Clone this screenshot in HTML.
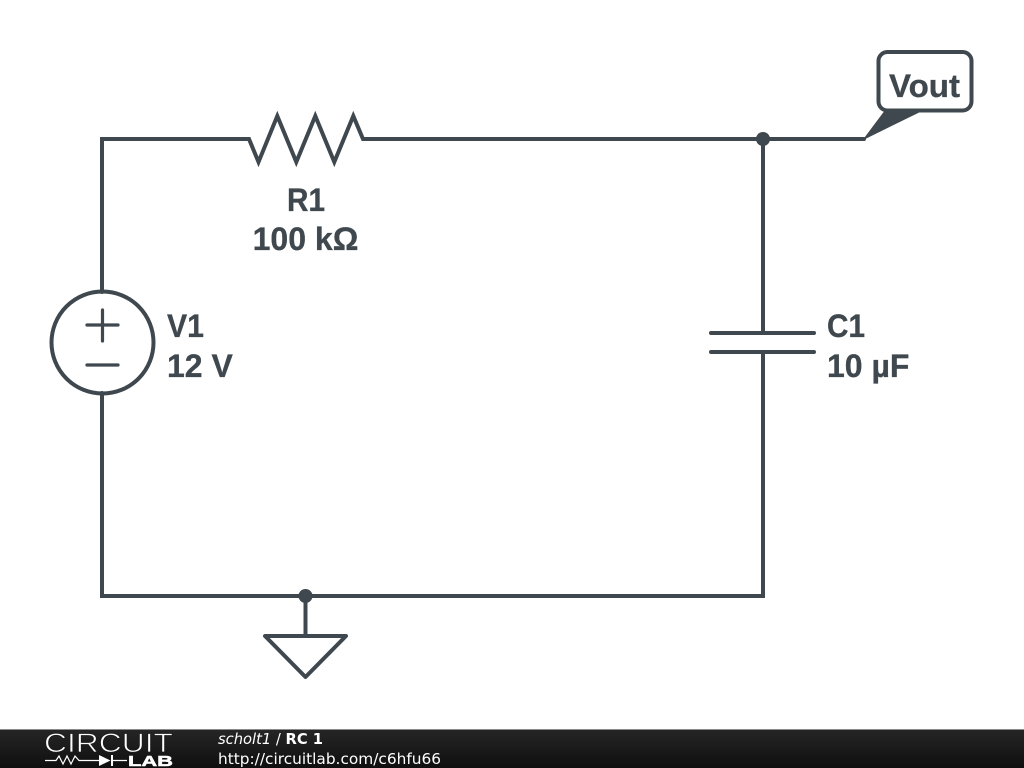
<!DOCTYPE html>
<html><head><meta charset="utf-8"><style>
html,body{margin:0;padding:0;background:#fff;width:1024px;height:768px;overflow:hidden}
svg{display:block}
</style></head><body>
<svg width="1024" height="768" viewBox="0 0 1024 768" xmlns="http://www.w3.org/2000/svg">
<defs><linearGradient id="g" x1="0" y1="0" x2="0" y2="1"><stop offset="0" stop-color="#262626"/><stop offset="1" stop-color="#0f0f0f"/></linearGradient></defs>
<rect width="1024" height="768" fill="#fff"/>
<g fill="none" stroke="#3f484e" stroke-width="4" stroke-linecap="round" stroke-linejoin="miter">
<path d="M102 292V139H249L258.500 162L277.300 116L296.300 162L315.300 116L334.300 162L353.300 116L363 139H864"/>
<path d="M763 139V333M763 352V596H102V393"/>
<path d="M711 333H814M711 352H814"/>
<circle cx="102.500" cy="342.500" r="51" stroke-width="4"/>
<path d="M87 325H118M102.500 310V341M87 365H118" stroke-width="3.200"/>
<path d="M305.500 596V636M265 636H346L305.500 677Z" stroke-linejoin="round"/>
<rect x="878.500" y="52" width="93" height="58.500" rx="9" ry="9"/>
</g>
<path d="M864 139L885 111H921Z" fill="#3f484e" stroke="#3f484e" stroke-width="1"/>
<circle cx="763" cy="139" r="7" fill="#3f484e"/>
<circle cx="305.500" cy="596" r="7" fill="#3f484e"/>
<g font-family="'Liberation Sans',sans-serif" font-weight="700" font-size="32" fill="#3f484e" stroke="#3f484e" stroke-width="0.300">
<text x="889" y="97" textLength="71" lengthAdjust="spacingAndGlyphs">Vout</text>
<text x="287" y="211" textLength="38" lengthAdjust="spacingAndGlyphs">R1</text>
<text x="305.500" y="250" text-anchor="middle">100 kΩ</text>
<text x="167" y="337" textLength="37" lengthAdjust="spacingAndGlyphs">V1</text>
<text x="167" y="377">12 V</text>
<text x="827" y="337" textLength="38" lengthAdjust="spacingAndGlyphs">C1</text>
<text x="827" y="377">10 µF</text>
</g>
<rect x="0" y="729" width="1024" height="39" fill="url(#g)"/>
<rect x="0" y="729" width="1024" height="1" fill="#8a8a8a"/>
<text x="44" y="752" font-family="'Liberation Sans',sans-serif" font-size="27" fill="#fff" textLength="129" lengthAdjust="spacingAndGlyphs" stroke="#1c1c1c" stroke-width="0.800">CIRCUIT</text>
<path d="M45 760.500H56L59 756L63 764L67 756L71 764L75 756L79 760.500H99M112 760.500H127" fill="none" stroke="#fff" stroke-width="1.200"/>
<path d="M99 755V766L110.500 760.500ZM111 755V766H113V755Z" fill="#fff"/>
<text x="128" y="766" font-family="'Liberation Sans',sans-serif" font-weight="700" font-size="15" fill="#fff" stroke="#fff" stroke-width="0.500" textLength="45" lengthAdjust="spacingAndGlyphs">LAB</text>
<g font-family="'DejaVu Sans',sans-serif" font-size="14.700" fill="#fff">
<text x="218" y="744" textLength="105" lengthAdjust="spacingAndGlyphs"><tspan font-style="italic">scholt1</tspan> / <tspan font-weight="700">RC 1</tspan></text>
<text x="218" y="764" textLength="223" lengthAdjust="spacingAndGlyphs">http://circuitlab.com/c6hfu66</text>
</g>
</svg>
</body></html>
